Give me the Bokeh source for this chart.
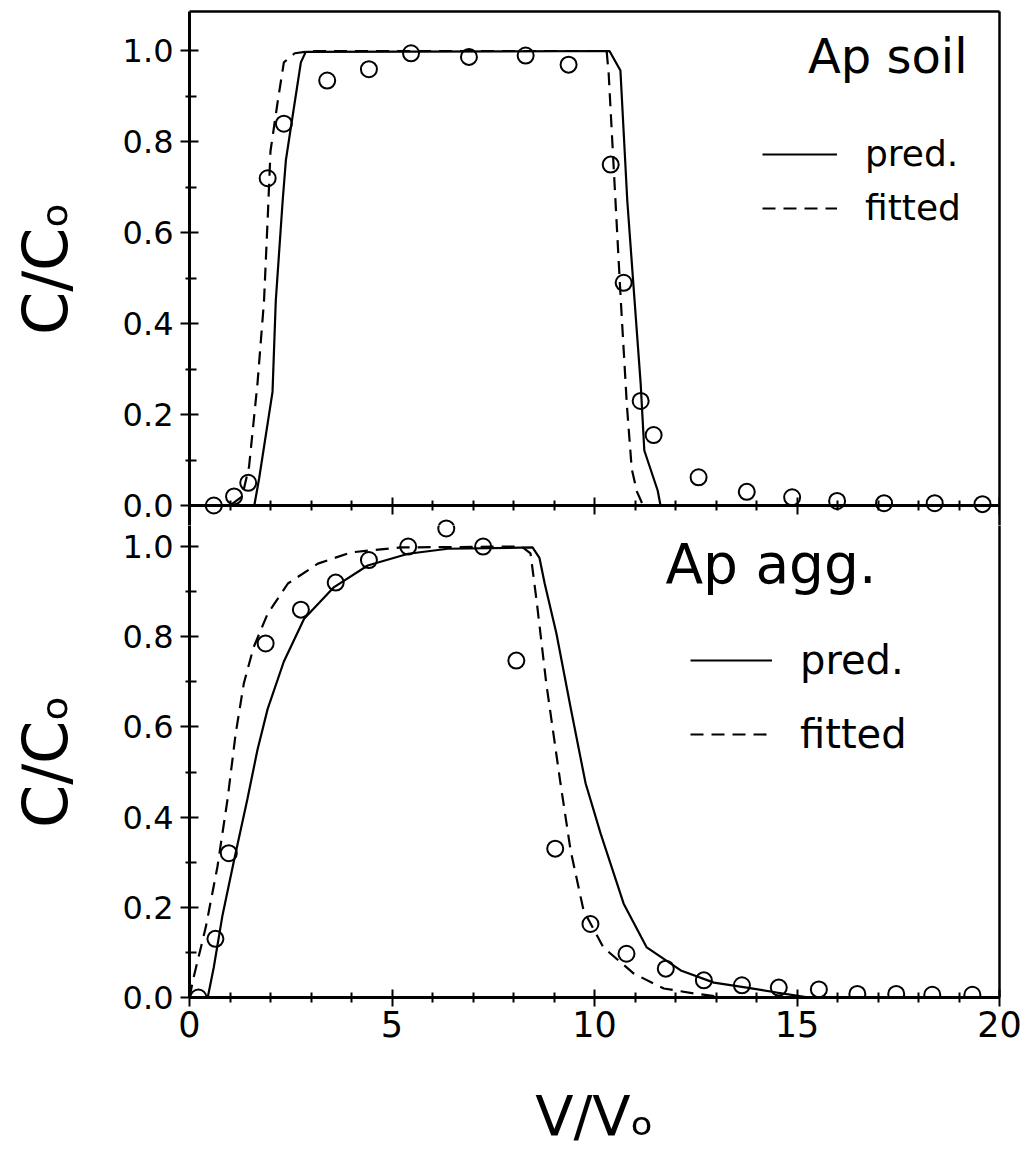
from bokeh.plotting import figure
from bokeh.layouts import column
from bokeh.models import (Range1d, LinearAxis, FixedTicker, Legend, Label,
                          CustomJSTickFormatter, NumeralTickFormatter)
from bokeh.embed import file_html
from bokeh.resources import INLINE

# ---------------- data ----------------
# Top panel: Ap soil
soil_obs_x = [0.6, 1.1, 1.45, 1.93, 2.33, 3.4, 4.43, 5.47, 6.9, 8.3, 9.36, 10.4,
              10.72, 11.14, 11.46, 12.57, 13.76, 14.88, 15.99, 17.15, 18.4, 19.58]
soil_obs_y = [0.0, 0.02, 0.05, 0.72, 0.84, 0.935, 0.96, 0.995, 0.987, 0.99, 0.97, 0.75,
              0.49, 0.23, 0.155, 0.062, 0.03, 0.018, 0.01, 0.005, 0.005, 0.003]

soil_pred_x = [0.0, 1.6, 1.72, 2.05, 2.13, 2.3, 2.38, 2.5, 2.75, 2.87, 10.37, 10.64,
               10.81, 10.99, 11.14, 11.23, 11.56, 11.63, 20.0]
soil_pred_y = [0.0, 0.0, 0.06, 0.25, 0.45, 0.67, 0.76, 0.83, 0.975, 0.998, 1.0, 0.957,
               0.67, 0.45, 0.268, 0.121, 0.033, 0.0, 0.0]

soil_fit_x = [0.0, 1.0, 1.3, 1.47, 1.68, 1.84, 1.93, 2.0, 2.18, 2.33, 2.6, 3.0,
              10.3, 10.35, 10.5, 10.65, 10.8, 10.92, 11.05, 11.2, 20.0]
soil_fit_y = [0.0, 0.0, 0.02, 0.085, 0.27, 0.45, 0.63, 0.78, 0.89, 0.975, 0.995, 1.0,
              1.0, 0.95, 0.7, 0.45, 0.22, 0.08, 0.03, 0.0, 0.0]

# Bottom panel: Ap agg.
agg_obs_x = [0.22, 0.64, 0.97, 1.88, 2.75, 3.61, 4.43, 5.4, 6.34, 7.25, 8.07, 9.03,
             9.9, 10.79, 11.76, 12.7, 13.64, 14.55, 15.54, 16.49, 17.45, 18.34, 19.33]
agg_obs_y = [0.0, 0.13, 0.32, 0.785, 0.86, 0.92, 0.97, 1.0, 1.04, 1.0, 0.747, 0.33,
             0.163, 0.097, 0.064, 0.038, 0.027, 0.022, 0.018, 0.008, 0.008, 0.006, 0.006]

agg_pred_x = [0.0, 0.45, 0.6, 0.81, 1.09, 1.43, 1.68, 1.93, 2.33, 2.83, 3.57, 4.4,
              5.4, 6.38, 8.47, 8.64, 8.77, 9.06, 9.41, 9.78, 10.15, 10.72, 11.29,
              12.13, 12.95, 13.76, 14.5, 15.3, 20.0]
agg_pred_y = [0.0, 0.0, 0.067, 0.18, 0.30, 0.44, 0.55, 0.64, 0.745, 0.84, 0.91, 0.958,
              0.984, 0.995, 0.998, 0.975, 0.918, 0.807, 0.643, 0.475, 0.364, 0.208, 0.111,
              0.06, 0.033, 0.022, 0.011, 0.0, 0.0]

agg_fit_x = [0.0, 0.1, 0.4, 0.69, 0.94, 1.14, 1.34, 1.58, 1.93, 2.43, 3.17, 3.99,
             5.22, 8.2, 8.42, 8.57, 8.81, 9.16, 9.41, 9.73, 10.22, 10.97, 11.71,
             12.45, 13.2, 20.0]
agg_fit_y = [0.0, 0.044, 0.155, 0.29, 0.44, 0.585, 0.696, 0.776, 0.851, 0.918, 0.962,
             0.987, 0.998, 1.0, 0.985, 0.88, 0.696, 0.475, 0.326, 0.193, 0.111, 0.053,
             0.02, 0.009, 0.0, 0.0]

x_major = [0, 5, 10, 15, 20]
x_minor = [1, 2, 3, 4, 6, 7, 8, 9, 11, 12, 13, 14, 16, 17, 18, 19]
y_major = [0.0, 0.2, 0.4, 0.6, 0.8, 1.0]
y_minor = [0.1, 0.3, 0.5, 0.7, 0.9]

panel_titles = ["Ap soil", "Ap agg."]
legend_labels = ["pred.", "fitted"]
y_title = "C/C\u2092"
x_title = "V/V\u2092"

FONT = "DejaVu Sans"
W = 1024
TOP_H = 525
BOT_H = 1154 - TOP_H


def make_fig(height, y_rng, top_border, bottom_border):
    f = figure(width=W, height=height, output_backend="svg", toolbar_location=None,
               x_range=Range1d(0, 20), y_range=y_rng,
               x_axis_location=None, y_axis_location=None,
               min_border_left=189, min_border_right=25,
               min_border_top=top_border, min_border_bottom=bottom_border)
    f.grid.visible = False
    f.outline_line_color = None
    f.background_fill_color = "white"
    f.border_fill_color = "white"
    return f


def add_y_axis(f):
    ax = LinearAxis(axis_label=y_title)
    ax.ticker = FixedTicker(ticks=y_major, minor_ticks=y_minor)
    ax.formatter = NumeralTickFormatter(format="0.0")
    ax.axis_line_width = 3
    ax.major_tick_line_width = 2
    ax.minor_tick_line_width = 2
    ax.major_tick_in = 9
    ax.major_tick_out = 9
    ax.minor_tick_in = 7
    ax.minor_tick_out = 4
    ax.major_label_text_font = FONT
    ax.major_label_text_font_size = "32px"
    ax.major_label_text_color = "black"
    ax.major_label_standoff = 7
    ax.axis_label_text_font = FONT
    ax.axis_label_text_font_size = "62px"
    ax.axis_label_text_font_style = "normal"
    ax.axis_label_text_color = "black"
    ax.axis_label_standoff = 38
    f.add_layout(ax, "left")


def style_x(ax):
    ax.ticker = FixedTicker(ticks=x_major, minor_ticks=x_minor)
    ax.axis_line_width = 3
    ax.major_tick_line_width = 2
    ax.minor_tick_line_width = 2
    ax.major_tick_in = 8
    ax.major_tick_out = 9
    ax.minor_tick_in = 5
    ax.minor_tick_out = 5


def border_axis(f, side):
    ax = LinearAxis(ticker=FixedTicker(ticks=[], minor_ticks=[]))
    ax.axis_line_width = 2.5
    ax.major_tick_out = 0
    ax.minor_tick_out = 0
    ax.major_tick_in = 0
    ax.minor_tick_in = 0
    ax.major_label_standoff = 0
    f.add_layout(ax, side)


circle_style = dict(marker="circle", size=16, fill_color=None,
                    line_color="black", line_width=2)

# ---------------- top panel ----------------
top = make_fig(TOP_H, Range1d(-0.044, 1.0869), 11, 0)
# same scale as the lower panel, so lower-panel points that cross the divider stay whole
top.extra_y_ranges = {"agg": Range1d(1.0466, 2.1863)}
add_y_axis(top)
border_axis(top, "above")
border_axis(top, "right")
ax_mid = LinearAxis(fixed_location=0)
style_x(ax_mid)
ax_mid.formatter = CustomJSTickFormatter(code="return ''")
top.add_layout(ax_mid, "below")

r_sp = top.line(soil_pred_x, soil_pred_y, line_color="black", line_width=2.2)
r_sf = top.line(soil_fit_x, soil_fit_y, line_color="black", line_width=2.2,
                line_dash="13 8")
top.scatter(soil_obs_x, soil_obs_y, **circle_style)
top.scatter(agg_obs_x, agg_obs_y, y_range_name="agg", **circle_style)

leg_top = Legend(items=[(legend_labels[0], [r_sp]), (legend_labels[1], [r_sf])],
                 location=(573, 297), label_text_font=FONT,
                 label_text_font_size="36px", label_text_color="black",
                 glyph_width=75, glyph_height=20,
                 label_standoff=28, spacing=13, padding=0, margin=0,
                 border_line_color=None, background_fill_alpha=0)
top.add_layout(leg_top)
top.add_layout(Label(x=19.21, y=0.99, text=panel_titles[0],
                     text_align="right", text_baseline="alphabetic",
                     text_font=FONT, text_font_size="48px", text_color="black"))

# ---------------- bottom panel ----------------
bot = make_fig(BOT_H, Range1d(0, 1.0466), 0, 157)
add_y_axis(bot)
border_axis(bot, "right")
ax_bottom = LinearAxis(axis_label=x_title)
style_x(ax_bottom)
ax_bottom.major_label_text_font = FONT
ax_bottom.major_label_text_font_size = "35px"
ax_bottom.major_label_text_color = "black"
ax_bottom.major_label_standoff = 4
ax_bottom.axis_label_text_font = FONT
ax_bottom.axis_label_text_font_size = "56px"
ax_bottom.axis_label_text_font_style = "normal"
ax_bottom.axis_label_text_color = "black"
ax_bottom.axis_label_standoff = 43
bot.add_layout(ax_bottom, "below")

r_ap = bot.line(agg_pred_x, agg_pred_y, line_color="black", line_width=2.2)
r_af = bot.line(agg_fit_x, agg_fit_y, line_color="black", line_width=2.2,
                line_dash="13 8")
bot.scatter(agg_obs_x, agg_obs_y, **circle_style)

leg_bot = Legend(items=[(legend_labels[0], [r_ap]), (legend_labels[1], [r_af])],
                 location=(501, 240), label_text_font=FONT,
                 label_text_font_size="40px", label_text_color="black",
                 glyph_width=82, glyph_height=20,
                 label_standoff=28, spacing=28, padding=0, margin=0,
                 border_line_color=None, background_fill_alpha=0)
bot.add_layout(leg_bot)
bot.add_layout(Label(x=11.75, y=0.962, text=panel_titles[1],
                     text_align="left", text_baseline="alphabetic",
                     text_font=FONT, text_font_size="55px", text_color="black"))

layout = column(top, bot, spacing=0)
open("out.html", "w").write(file_html(layout, INLINE))
